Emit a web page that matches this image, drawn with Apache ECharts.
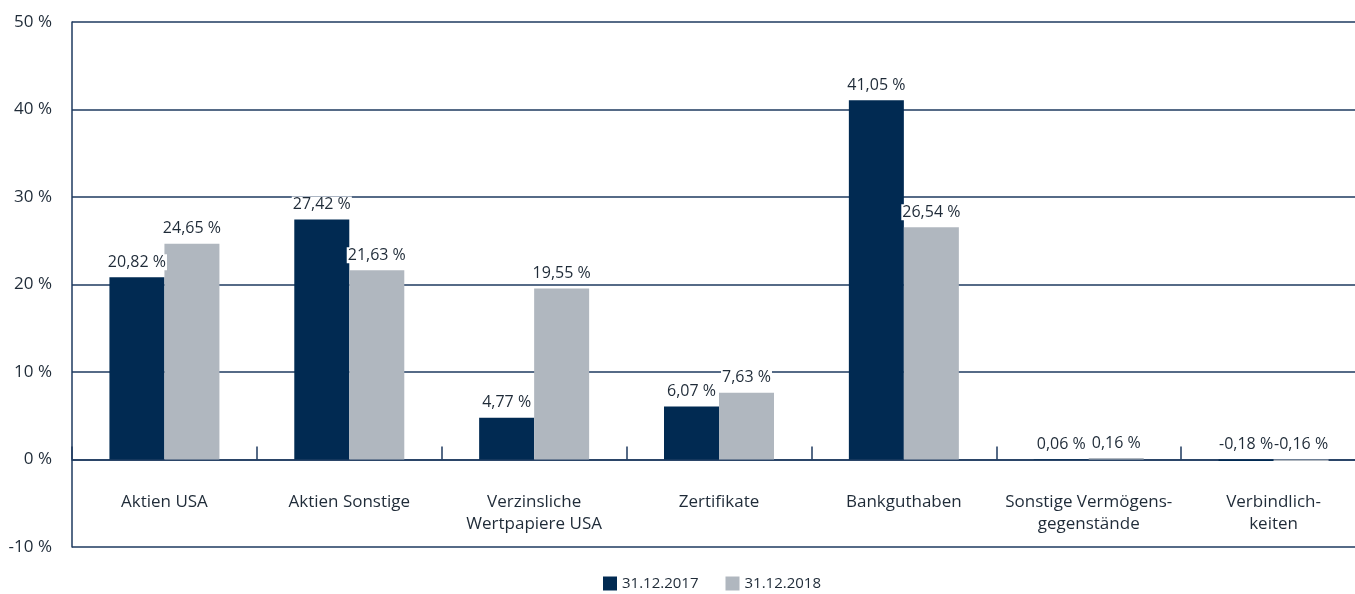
<!DOCTYPE html>
<html>
<head>
<meta charset="utf-8">
<script src="https://cdn.jsdelivr.net/npm/echarts@6/dist/echarts.min.js"></script>
<style>
html,body{margin:0;padding:0;background:#fff;}
#chart{width:1355px;height:594px;}
</style>
</head>
<body>
<div id="chart"></div>
<script>
var categories = ["Aktien USA", "Aktien Sonstige", "Verzinsliche\nWertpapiere USA", "Zertifikate", "Bankguthaben", "Sonstige Vermögens-\ngegenstände", "Verbindlich-\nkeiten"];
var values2017 = [20.82, 27.42, 4.77, 6.07, 41.05, 0.06, -0.18];
var values2018 = [24.65, 21.63, 19.55, 7.63, 26.54, 0.16, -0.16];
var seriesNames = ["31.12.2017", "31.12.2018"];

var FONT = '"Open Sans", "Noto Sans", sans-serif';
var TEXT = '#1f2b38';
var LINE = '#1e3a5f';
var NAVY = '#012a52';
var GREY = '#b0b7bf';

function fmt(v) { return v.toFixed(2).replace('.', ',') + ' %'; }

var labelCfg = {
  show: true,
  position: 'top',
  distance: 7,
  fontFamily: FONT,
  fontSize: 16,
  color: TEXT,
  backgroundColor: '#fff',
  padding: [0, 1],
  formatter: function (p) { return fmt(p.value); }
};

var chart = echarts.init(document.getElementById('chart'), null, {renderer: 'canvas'});
chart.setOption({
  animation: false,
  textStyle: {fontFamily: FONT},
  grid: {left: 72, right: -11, top: 22, bottom: 47, containLabel: false, outerBoundsMode: 'none'},
  legend: {
    top: 571,
    left: 598,
    icon: 'rect',
    itemWidth: 14,
    itemHeight: 14,
    itemGap: 27,
    textStyle: {fontFamily: FONT, fontSize: 15, color: TEXT},
    data: seriesNames
  },
  xAxis: {
    type: 'category',
    data: categories,
    axisLine: {onZero: true, lineStyle: {color: LINE, width: 1.5}},
    axisTick: {show: true, inside: true, length: 13, interval: 0, lineStyle: {color: LINE, width: 1.5}},
    axisLabel: {interval: 0, margin: -56, fontFamily: FONT, fontSize: 17, color: TEXT, lineHeight: 22},
    splitLine: {show: false}
  },
  yAxis: {
    type: 'value',
    min: -10,
    max: 50,
    interval: 10,
    axisLine: {show: true, lineStyle: {color: LINE, width: 1.5}},
    axisTick: {show: false},
    axisLabel: {margin: 20, fontFamily: FONT, fontSize: 17, color: TEXT, formatter: '{value} %'},
    splitLine: {show: true, lineStyle: {color: LINE, width: 1.5}}
  },
  series: [
    {name: seriesNames[0], type: 'bar', data: values2017, barWidth: 55, barGap: '0%', itemStyle: {color: NAVY}, label: labelCfg},
    {name: seriesNames[1], type: 'bar', data: values2018, barWidth: 55, barGap: '0%', itemStyle: {color: GREY}, label: labelCfg}
  ]
});
</script>
</body>
</html>
